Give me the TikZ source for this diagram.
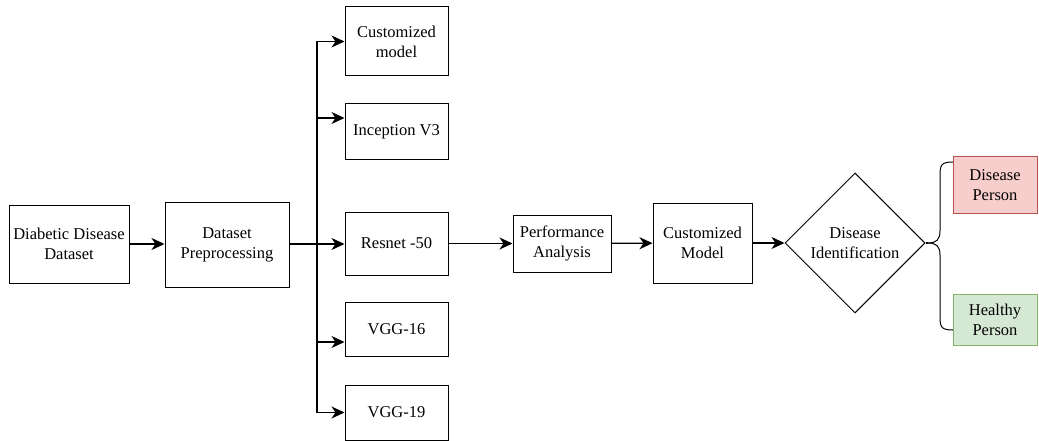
\documentclass[tikz,border=0pt]{standalone}
\usepackage{fontspec}
\setmainfont{Liberation Serif}
\newfontfamily\boxfont{Liberation Serif}
\usepackage{tikz}
\usetikzlibrary{arrows.meta,shapes.geometric}
\usetikzlibrary{calc}

\tikzset{
	stagebox/.style={draw, line width=1pt, align=center, inner sep=2pt},
	netbox/.style={stagebox, minimum width=103pt},
	flow/.style={line width=1.3pt, -{Stealth[length=13pt,width=12pt,inset=4pt]}},
	plain/.style={line width=1.3pt},
	sickbox/.style={stagebox, fill=sickfill, draw=sickline, minimum width=84pt},
	wellbox/.style={stagebox, fill=wellfill, draw=wellline, minimum width=84pt}
}
\definecolor{sickfill}{HTML}{F8CECC}
\definecolor{sickline}{HTML}{B85450}
\definecolor{wellfill}{HTML}{D5E8D4}
\definecolor{wellline}{HTML}{82B366}

\begin{document}
\begin{tikzpicture}[x=1pt, y=-1pt, every node/.style={font=\boxfont\fontsize{16.5}{20}\selectfont}]
	\useasboundingbox (0,0) rectangle (1039,441);

	\node[stagebox, minimum width=120pt, minimum height=78pt] (data) at (69,244) {Diabetic Disease\\Dataset};
	\node[stagebox, minimum width=124pt, minimum height=85pt] (prep) at (227,244.5) {Dataset\\Preprocessing};

	\node[netbox, minimum height=69pt] (custom) at (396.5,41.5) {Customized\\model};
	\node[netbox, minimum height=56pt] (incep) at (396.5,132) {Inception V3};
	\node[netbox, minimum height=63pt] (resnet) at (396.5,243.5) {Resnet -50};
	\node[netbox, minimum height=54pt] (vgga) at (396.5,329) {VGG-16};
	\node[netbox, minimum height=55pt] (vggb) at (396.5,412.5) {VGG-19};

	\node[stagebox, minimum width=98pt, minimum height=57pt] (perf) at (562,243.5) {Performance\\Analysis};
	\node[stagebox, minimum width=99pt, minimum height=80pt] (cmodel) at (702.5,243) {Customized\\Model};
	\node[draw, line width=1pt, diamond, aspect=1, inner sep=0pt, minimum width=140pt, minimum height=140pt, align=center] (ident) at (855,243) {Disease\\Identification};

	\node[sickbox, minimum height=56pt] (sick) at (995,185) {Disease\\Person};
	\node[wellbox, minimum height=51pt] (well) at (995,319.5) {Healthy\\Person};

	\draw[flow] (data) -- (data -| prep.west);
	\coordinate (trunk) at (317,244);
	\draw[plain] (prep.east |- trunk) -- (trunk);
	\draw[flow] (trunk) |- (custom.west);
	\draw[flow] (trunk) |- ([yshift=14pt]incep.west);
	\draw[flow] (trunk) -- (resnet.west |- trunk);
	\draw[flow] (trunk) |- ([yshift=-13pt]vgga.west);
	\draw[flow] (trunk) |- (vggb.west);

	\draw[flow] (resnet.east |- perf) -- (perf.west);
	\draw[flow] (perf) -- (cmodel);
	\draw[flow] (cmodel) -- (ident);

	% brace to the two outcomes
	\coordinate (tip) at (928,243);
	\coordinate (bracetop) at (953,162);
	\coordinate (bracebot) at (953,330);
	\draw[plain] (ident.east) -- (tip);
	\draw[line width=1pt] (bracetop) .. controls (941,162) and (940,165) .. (940,176) -- (940,231)
		.. controls (940,240) and (936,243) .. (tip);
	\draw[line width=1pt] (bracebot) .. controls (941,330) and (940,327) .. (940,316) -- (940,255)
		.. controls (940,246) and (936,243) .. (tip);
\end{tikzpicture}
\end{document}
